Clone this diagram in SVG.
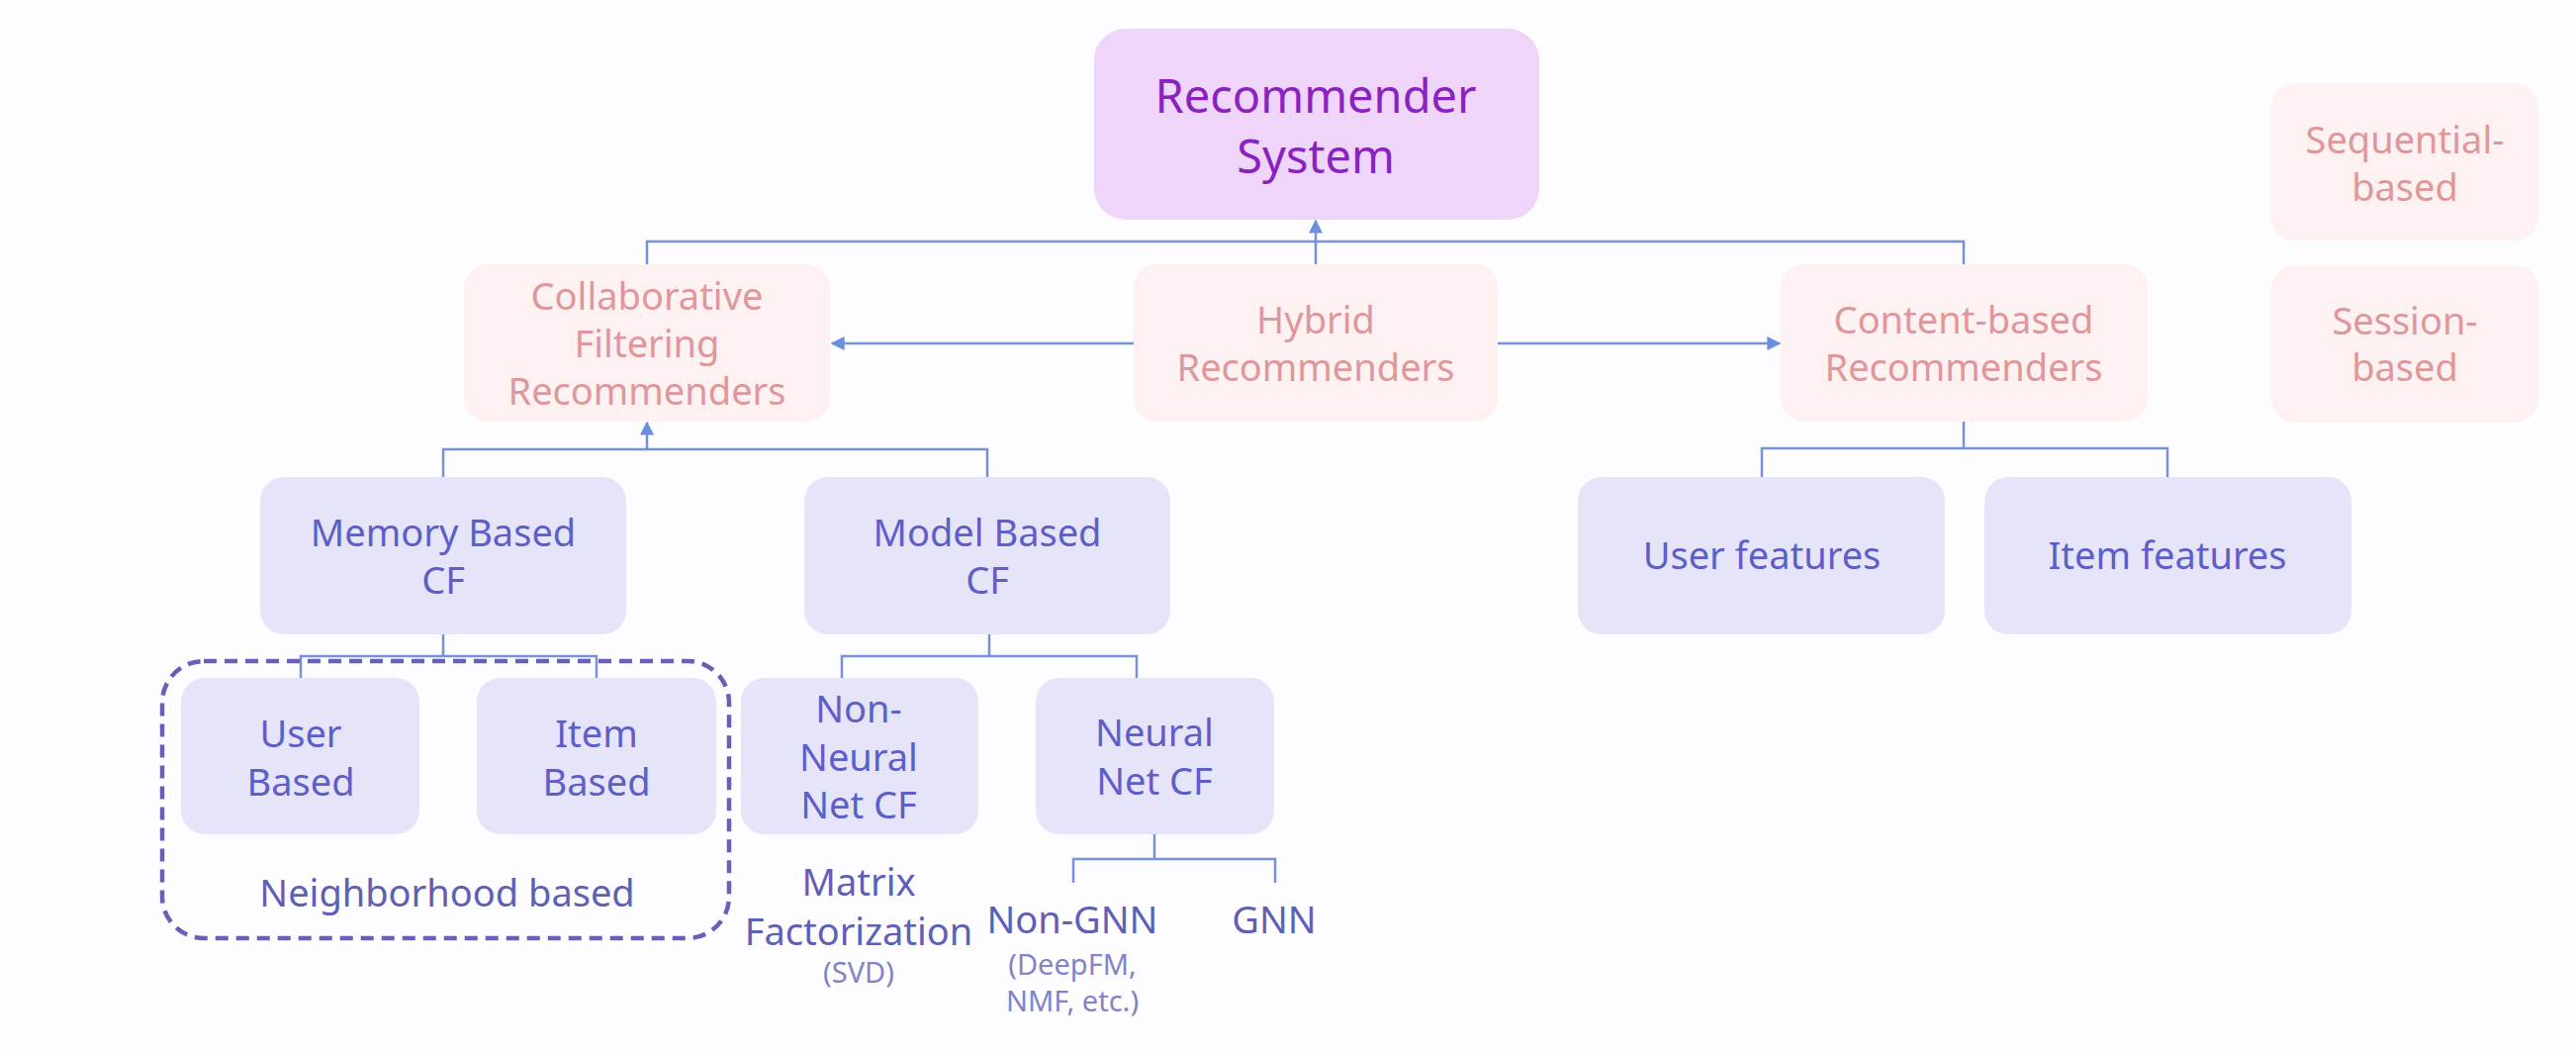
<svg xmlns="http://www.w3.org/2000/svg" width="2604" height="1064" viewBox="0 0 2604 1064">
<style>
text{font-family:"Noto Sans","Open Sans","DejaVu Sans",sans-serif;text-anchor:middle}
.root rect{fill:#efd5fa}
.root text{fill:#8a22c2;font-size:47px}
.pink rect{fill:#fdf1f2}
.pink text{fill:#de979b;font-size:38px}
.lav rect{fill:#e6e4f8}
.lav text{fill:#5e5ec8;font-size:38px}
.lbl{fill:#5e60b6;font-size:38px}
.sm{fill:#8283c8;font-size:29px}
.con path{fill:none;stroke:#7892d8;stroke-width:2.5}
.arr{marker-end:url(#ah)}
</style>
<defs>
<marker id="ah" viewBox="0 0 10 10" refX="9" refY="5" markerWidth="14" markerHeight="14" markerUnits="userSpaceOnUse" orient="auto">
<path d="M0 0 L10 5 L0 10 Z" fill="#6b8fe0"/>
</marker>
</defs>
<rect width="2604" height="1064" fill="#fdfcfe"/>

<g id="connectors" class="con">
<path d="M654 267 V244 H1985 V268"/>
<path class="arr" d="M1330 267 V223"/>
<path class="arr" d="M1146 347 H841"/>
<path class="arr" d="M1514 347 H1799"/>
<path d="M448 482 V454 H998 V482"/>
<path class="arr" d="M654 454 V427"/>
<path d="M448 641 V663"/>
<path d="M304 685 V663 H603 V685"/>
<path d="M1000 641 V663"/>
<path d="M851 685 V663 H1149 V685"/>
<path d="M1167 843 V868"/>
<path d="M1085 892 V868 H1289 V892"/>
<path d="M1985 425 V453"/>
<path d="M1781 482 V453 H2191 V482"/>
</g>

<g id="recommender" class="root">
<rect x="1106" y="29" width="450" height="193" rx="32"/>
<text x="1330" y="114">Recommender</text>
<text x="1330" y="175">System</text>
</g>

<g id="collaborative" class="pink">
<rect x="469" y="267" width="370" height="159" rx="24"/>
<text x="654" y="313">Collaborative</text>
<text x="654" y="361">Filtering</text>
<text x="654" y="409">Recommenders</text>
</g>

<g id="hybrid" class="pink">
<rect x="1146" y="267" width="368" height="159" rx="24"/>
<text x="1330" y="337">Hybrid</text>
<text x="1330" y="385">Recommenders</text>
</g>

<g id="content" class="pink">
<rect x="1800" y="267" width="371" height="159" rx="24"/>
<text x="1985" y="337">Content-based</text>
<text x="1985" y="385">Recommenders</text>
</g>

<g id="sequential" class="pink">
<rect x="2296" y="84" width="270" height="159" rx="24"/>
<text x="2431" y="155">Sequential-</text>
<text x="2431" y="203">based</text>
</g>

<g id="session" class="pink">
<rect x="2296" y="268" width="270" height="159" rx="24"/>
<text x="2431" y="338">Session-</text>
<text x="2431" y="385">based</text>
</g>

<g id="memory" class="lav">
<rect x="263" y="482" width="370" height="159" rx="24"/>
<text x="448" y="552">Memory Based</text>
<text x="448" y="600">CF</text>
</g>

<g id="model" class="lav">
<rect x="813" y="482" width="370" height="159" rx="24"/>
<text x="998" y="552">Model Based</text>
<text x="998" y="600">CF</text>
</g>

<g id="user-based" class="lav">
<rect x="183" y="685" width="241" height="158" rx="24"/>
<text x="304" y="755">User</text>
<text x="304" y="804">Based</text>
</g>

<g id="item-based" class="lav">
<rect x="482" y="685" width="242" height="158" rx="24"/>
<text x="603" y="755">Item</text>
<text x="603" y="804">Based</text>
</g>

<g id="neighborhood">
<rect x="164" y="668" width="573" height="280" rx="42" fill="none" stroke="#6a5fb8" stroke-width="4.5" stroke-dasharray="13 8"/>
<text class="lbl" x="452" y="916">Neighborhood based</text>
</g>

<g id="non-neural" class="lav">
<rect x="749" y="685" width="240" height="158" rx="24"/>
<text x="868" y="730">Non-</text>
<text x="868" y="779">Neural</text>
<text x="868" y="827">Net CF</text>
</g>

<g id="neural" class="lav">
<rect x="1047" y="685" width="241" height="158" rx="24"/>
<text x="1167" y="754">Neural</text>
<text x="1167" y="803">Net CF</text>
</g>

<g id="matrix-factorization">
<text class="lbl" x="868" y="905">Matrix</text>
<text class="lbl" x="868" y="955">Factorization</text>
<text class="sm" x="868" y="993">(SVD)</text>
</g>

<g id="non-gnn">
<text class="lbl" x="1084" y="943">Non-GNN</text>
<text class="sm" x="1084" y="985">(DeepFM,</text>
<text class="sm" x="1084" y="1022">NMF, etc.)</text>
</g>

<g id="gnn">
<text class="lbl" x="1288" y="943">GNN</text>
</g>

<g id="user-features" class="lav">
<rect x="1595" y="482" width="371" height="159" rx="24"/>
<text x="1781" y="575">User features</text>
</g>

<g id="item-features" class="lav">
<rect x="2006" y="482" width="371" height="159" rx="24"/>
<text x="2191" y="575">Item features</text>
</g>
</svg>
